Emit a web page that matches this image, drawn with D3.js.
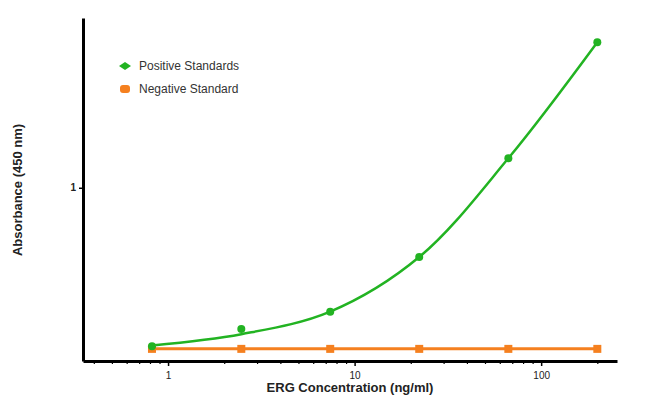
<!DOCTYPE html>
<html>
<head>
<meta charset="utf-8">
<script src="https://cdn.jsdelivr.net/npm/d3@7"></script>
<style>
  body { margin: 0; background: #fff; }
  text { font-family: "Liberation Sans", Arial, sans-serif; }
</style>
</head>
<body>
<script>
// concentrations (ng/ml), 3-fold dilutions
const conc = [0.82, 2.47, 7.4, 22.2, 66.7, 200];
const positive = [0.085, 0.185, 0.285, 0.6, 1.17, 1.84];
// fitted curve through the positive standards
const positiveFit = [0.09, 0.155, 0.285, 0.6, 1.17, 1.84];
const negative = [0.07, 0.07, 0.07, 0.07, 0.07, 0.07];
const xTicks = [1, 10, 100];
const yTicks = [1];

const width = 650;
const height = 408;

const svg = d3.select("body")
    .append("svg")
    .attr("width", width)
    .attr("height", height);

// X scale (log)
const x = d3.scaleLog()
    .domain([0.35, 255])
    .range([83, 617]);

// Y scale
const y = d3.scaleLinear()
    .domain([0, 1.98])
    .range([361, 18]);

const green = "#22b322";
const orange = "#f5801f";

// minor ticks
const minor = [];
for (let d = 0.1; d < 1000; d *= 10) {
    for (let k = 2; k <= 9; k++) {
        const v = d * k;
        if (v > 0.35 && v < 255) minor.push(v);
    }
}

svg.append("g")
    .attr("transform", `translate(0,361)`)
    .call(d3.axisBottom(x).tickValues(minor).tickSize(3).tickFormat(""))
    .call(g => g.select(".domain").remove())
    .call(g => g.selectAll("line").attr("stroke-width", 1.2));

// X axis
svg.append("g")
    .attr("transform", `translate(0,361)`)
    .call(d3.axisBottom(x).tickValues(xTicks).tickSize(5).tickSizeOuter(0).tickFormat(d3.format("d")))
    .call(g => g.select(".domain").attr("stroke-width", 3))
    .call(g => g.selectAll("line").attr("stroke-width", 1.5))
    .call(g => g.selectAll("text").attr("font-size", 10).attr("fill", "#222").attr("dy", "1em"));

// Y axis
svg.append("g")
    .attr("transform", `translate(83,0)`)
    .call(d3.axisLeft(y).tickValues(yTicks).tickSize(4).tickSizeOuter(0).tickFormat(d3.format("d")))
    .call(g => g.select(".domain").attr("stroke-width", 3))
    .call(g => g.selectAll("line").attr("stroke-width", 1.5))
    .call(g => g.selectAll("text").attr("font-size", 10).attr("fill", "#222").attr("font-weight", "bold"));

// axis titles
svg.append("text")
    .attr("x", 350)
    .attr("y", 392)
    .attr("text-anchor", "middle")
    .attr("font-size", 13)
    .attr("font-weight", "bold")
    .attr("fill", "#222")
    .text("ERG Concentration (ng/ml)");

svg.append("text")
    .attr("transform", "translate(22,190) rotate(-90)")
    .attr("text-anchor", "middle")
    .attr("font-size", 13)
    .attr("font-weight", "bold")
    .attr("fill", "#222")
    .text("Absorbance (450 nm)");

const pos = conc.map((c, i) => ({c, v: positive[i]}));
const fit = conc.map((c, i) => ({c, v: positiveFit[i]}));
const neg = conc.map((c, i) => ({c, v: negative[i]}));

// lines
svg.append("path")
    .datum(neg)
    .attr("fill", "none")
    .attr("stroke", orange)
    .attr("stroke-width", 3)
    .attr("d", d3.line().x(d => x(d.c)).y(d => y(d.v)));

svg.append("path")
    .datum(fit)
    .attr("fill", "none")
    .attr("stroke", green)
    .attr("stroke-width", 2.5)
    .attr("d", d3.line().curve(d3.curveCatmullRom.alpha(0.5)).x(d => x(d.c)).y(d => y(d.v)));

// markers
svg.selectAll("rect.neg")
    .data(neg)
    .enter()
    .append("rect")
    .attr("class", "neg")
    .attr("x", d => x(d.c) - 4)
    .attr("y", d => y(d.v) - 4)
    .attr("width", 8)
    .attr("height", 8)
    .attr("fill", orange);

svg.selectAll("circle.pos")
    .data(pos)
    .enter()
    .append("circle")
    .attr("class", "pos")
    .attr("cx", d => x(d.c))
    .attr("cy", d => y(d.v))
    .attr("r", 4)
    .attr("fill", green);

// legend
const legend = svg.append("g").attr("transform", "translate(125,66)");
legend.append("path")
    .attr("d", "M-6,0 L0,-4 L6,0 L0,4 Z")
    .attr("fill", green);
legend.append("rect")
    .attr("x", -5).attr("y", 19).attr("width", 10).attr("height", 8)
    .attr("rx", 3)
    .attr("fill", orange);
legend.append("text")
    .attr("x", 14).attr("y", 4)
    .attr("font-size", 12)
    .attr("fill", "#333")
    .text("Positive Standards");
legend.append("text")
    .attr("x", 14).attr("y", 27)
    .attr("font-size", 12)
    .attr("fill", "#333")
    .text("Negative Standard");
</script>
</body>
</html>
